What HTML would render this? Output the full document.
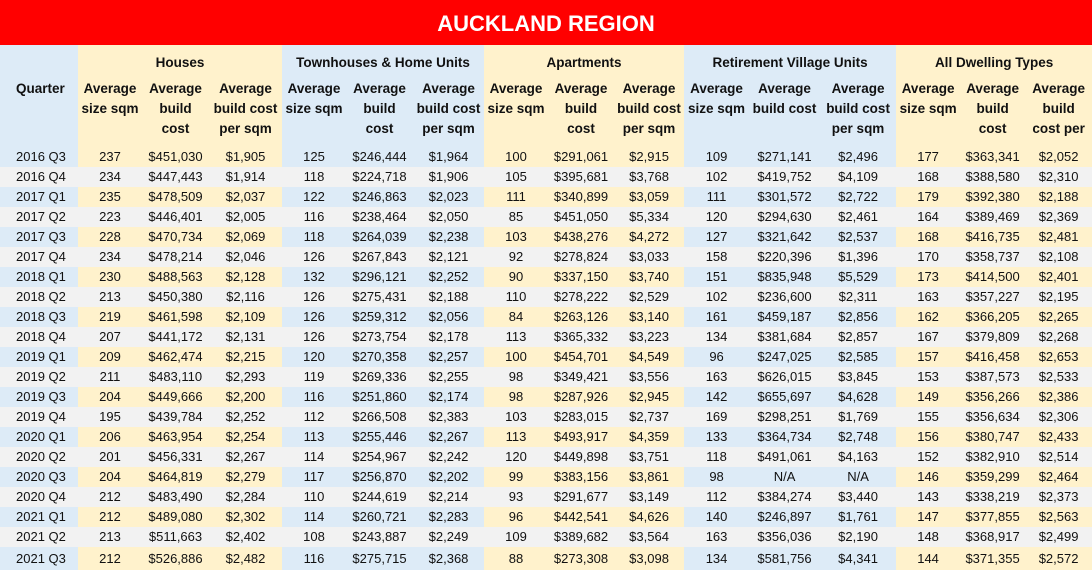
<!DOCTYPE html>
<html><head><meta charset="utf-8"><style>
body{margin:0;width:1092px;height:570px;overflow:hidden;background:#fff;font-family:"Liberation Sans",sans-serif;color:#111}
#title{height:45px;background:#ff0000;color:#fff;font-weight:bold;font-size:22px;text-align:center;line-height:47px}
table{border-collapse:collapse;table-layout:fixed;width:1092px}
td,th{padding:0;font-size:13.5px;text-align:center;white-space:nowrap;overflow:hidden}
th{font-weight:bold;vertical-align:top;line-height:20px}
.b{background:#ddebf7}.y{background:#fff2cc}.g{background:#f2f2f2}
tr.d td{height:20px;line-height:20px;font-size:13px}
tr.d td:first-child{text-align:left;padding-left:16px}
</style></head><body>
<div id="title">AUCKLAND REGION</div>
<table>
<colgroup><col style="width:78px"><col style="width:64px"><col style="width:67px"><col style="width:73px"><col style="width:64px"><col style="width:67px"><col style="width:71px"><col style="width:64px"><col style="width:66px"><col style="width:70px"><col style="width:65px"><col style="width:71px"><col style="width:76px"><col style="width:64px"><col style="width:65px"><col style="width:67px"></colgroup>
<thead>
<tr style="height:32px">
<th rowspan="2" class="b" style="text-align:left;padding:34px 0 0 16px">Quarter</th>
<th colspan="3" class="y" style="padding-top:8px">Houses</th>
<th colspan="3" class="b" style="padding-top:8px">Townhouses &amp; Home Units</th>
<th colspan="3" class="y" style="padding-top:8px">Apartments</th>
<th colspan="3" class="b" style="padding-top:8px">Retirement Village Units</th>
<th colspan="3" class="y" style="padding-top:8px">All Dwelling Types</th>
</tr>
<tr style="height:70px" id="sub"></tr>
</thead>
<tbody id="body"></tbody>
</table>
<script>
const subs=[["Average<br>size sqm","Average<br>build<br>cost","Average<br>build cost<br>per sqm"],
["Average<br>size sqm","Average<br>build<br>cost","Average<br>build cost<br>per sqm"],
["Average<br>size sqm","Average<br>build<br>cost","Average<br>build cost<br>per sqm"],
["Average<br>size sqm","Average<br>build cost","Average<br>build cost<br>per sqm"],
["Average<br>size sqm","Average<br>build<br>cost","Average<br>build<br>cost per"]];
const groupCls=["y","b","y","b","y"];
const sub=document.getElementById('sub');
subs.forEach((g,gi)=>g.forEach(t=>{const th=document.createElement('th');th.className=groupCls[gi];th.style.paddingTop='2px';th.innerHTML=t;


sub.appendChild(th);}));
const rows=[
["2016 Q3","237","$451,030","$1,905","125","$246,444","$1,964","100","$291,061","$2,915","109","$271,141","$2,496","177","$363,341","$2,052"],
["2016 Q4","234","$447,443","$1,914","118","$224,718","$1,906","105","$395,681","$3,768","102","$419,752","$4,109","168","$388,580","$2,310"],
["2017 Q1","235","$478,509","$2,037","122","$246,863","$2,023","111","$340,899","$3,059","111","$301,572","$2,722","179","$392,380","$2,188"],
["2017 Q2","223","$446,401","$2,005","116","$238,464","$2,050","85","$451,050","$5,334","120","$294,630","$2,461","164","$389,469","$2,369"],
["2017 Q3","228","$470,734","$2,069","118","$264,039","$2,238","103","$438,276","$4,272","127","$321,642","$2,537","168","$416,735","$2,481"],
["2017 Q4","234","$478,214","$2,046","126","$267,843","$2,121","92","$278,824","$3,033","158","$220,396","$1,396","170","$358,737","$2,108"],
["2018 Q1","230","$488,563","$2,128","132","$296,121","$2,252","90","$337,150","$3,740","151","$835,948","$5,529","173","$414,500","$2,401"],
["2018 Q2","213","$450,380","$2,116","126","$275,431","$2,188","110","$278,222","$2,529","102","$236,600","$2,311","163","$357,227","$2,195"],
["2018 Q3","219","$461,598","$2,109","126","$259,312","$2,056","84","$263,126","$3,140","161","$459,187","$2,856","162","$366,205","$2,265"],
["2018 Q4","207","$441,172","$2,131","126","$273,754","$2,178","113","$365,332","$3,223","134","$381,684","$2,857","167","$379,809","$2,268"],
["2019 Q1","209","$462,474","$2,215","120","$270,358","$2,257","100","$454,701","$4,549","96","$247,025","$2,585","157","$416,458","$2,653"],
["2019 Q2","211","$483,110","$2,293","119","$269,336","$2,255","98","$349,421","$3,556","163","$626,015","$3,845","153","$387,573","$2,533"],
["2019 Q3","204","$449,666","$2,200","116","$251,860","$2,174","98","$287,926","$2,945","142","$655,697","$4,628","149","$356,266","$2,386"],
["2019 Q4","195","$439,784","$2,252","112","$266,508","$2,383","103","$283,015","$2,737","169","$298,251","$1,769","155","$356,634","$2,306"],
["2020 Q1","206","$463,954","$2,254","113","$255,446","$2,267","113","$493,917","$4,359","133","$364,734","$2,748","156","$380,747","$2,433"],
["2020 Q2","201","$456,331","$2,267","114","$254,967","$2,242","120","$449,898","$3,751","118","$491,061","$4,163","152","$382,910","$2,514"],
["2020 Q3","204","$464,819","$2,279","117","$256,870","$2,202","99","$383,156","$3,861","98","N/A","N/A","146","$359,299","$2,464"],
["2020 Q4","212","$483,490","$2,284","110","$244,619","$2,214","93","$291,677","$3,149","112","$384,274","$3,440","143","$338,219","$2,373"],
["2021 Q1","212","$489,080","$2,302","114","$260,721","$2,283","96","$442,541","$4,626","140","$246,897","$1,761","147","$377,855","$2,563"],
["2021 Q2","213","$511,663","$2,402","108","$243,887","$2,249","109","$389,682","$3,564","163","$356,036","$2,190","148","$368,917","$2,499"],
["2021 Q3","212","$526,886","$2,482","116","$275,715","$2,368","88","$273,308","$3,098","134","$581,756","$4,341","144","$371,355","$2,572"]];
const body=document.getElementById('body');
rows.forEach((r,ri)=>{const tr=document.createElement('tr');tr.className='d';


r.forEach((v,ci)=>{const td=document.createElement('td');td.textContent=v;
let cls=ci==0?'b':groupCls[Math.floor((ci-1)/3)];
if(ri%2==1)cls='g';
td.className=cls;
if(ri==rows.length-1)td.style.height='23px';


tr.appendChild(td);});
body.appendChild(tr);});
</script>
</body></html>
